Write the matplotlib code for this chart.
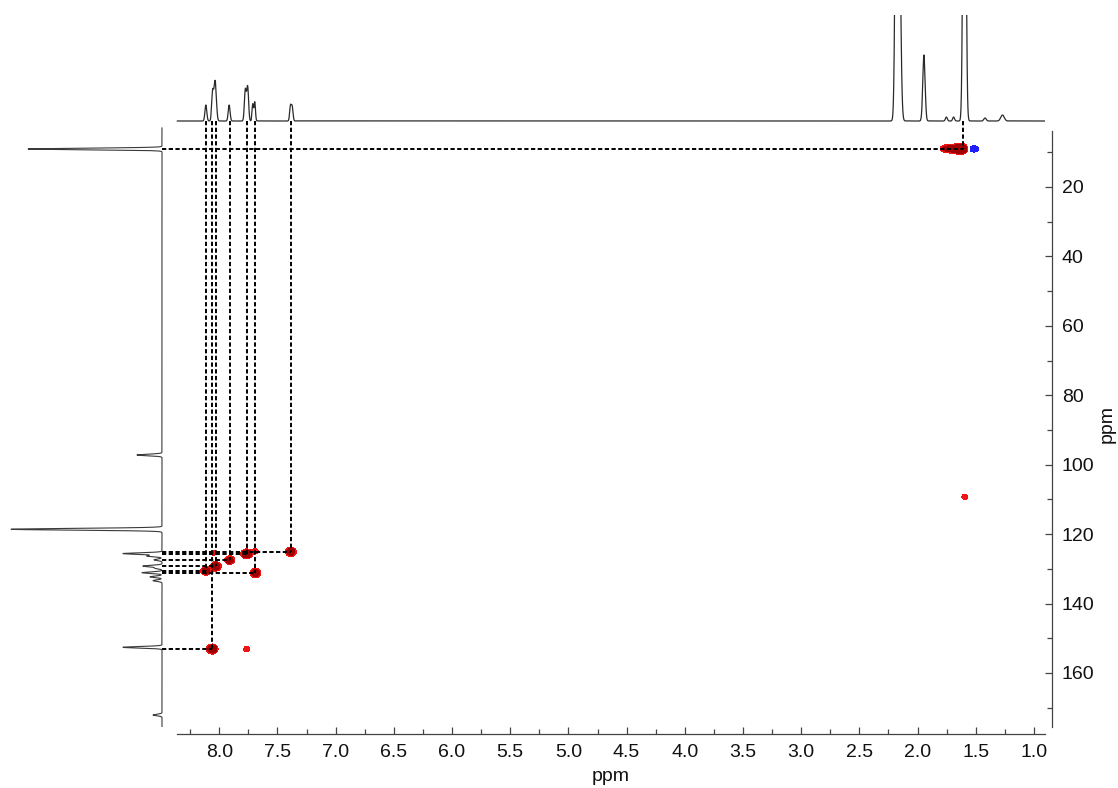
import numpy as np
import matplotlib
matplotlib.use("Agg")
import matplotlib.pyplot as plt
from matplotlib.ticker import MultipleLocator

plt.rcParams['font.family'] = ['Liberation Sans', 'DejaVu Sans']

# 1H projection: shift (ppm), intensity, gaussian width (ppm)
h_shift = [8.115, 8.057, 8.035, 7.915, 7.776, 7.756, 7.712, 7.695, 7.388, 7.373,
           2.178, 2.162, 1.945, 1.752, 1.690, 1.597, 1.420, 1.270]
h_height = [16, 28, 40, 16, 31, 34, 17, 19, 15, 14,
            400, 260, 66, 4, 4, 520, 3, 6]
h_width = [0.008, 0.008, 0.010, 0.008, 0.008, 0.008, 0.006, 0.006, 0.007, 0.007,
           0.012, 0.014, 0.010, 0.008, 0.008, 0.011, 0.010, 0.015]

# 13C projection: shift (ppm), intensity, gaussian width (ppm)
c_shift = [9.05, 97.2, 118.6, 125.6, 126.3, 127.4, 129.2, 129.8, 131.1, 132.3, 133.4, 152.6, 172.1]
c_height = [134, 25, 151, 39, 15, 8, 19, 7, 20, 12, 9, 39, 9]
c_width = [0.22, 0.22, 0.25, 0.22, 0.22, 0.22, 0.22, 0.22, 0.22, 0.22, 0.22, 0.22, 0.22]

# HSQC cross peaks: 1H shift, 13C shift, amplitude (negative = opposite phase)
cross_h = [7.385, 7.765, 7.690, 8.050, 7.910, 8.030, 8.115, 7.690, 8.060, 7.765,
           1.595,
           1.612, 1.645, 1.690, 1.740, 1.780, 1.535, 1.500]
cross_c = [125.1, 125.7, 124.9, 125.4, 127.5, 129.3, 130.6, 131.2, 153.1, 153.1,
           109.3,
           9.05, 9.05, 9.0, 9.0, 9.0, 9.05, 9.05]
cross_amp = [1.0, 1.25, 0.32, 0.32, 0.8, 1.05, 0.85, 1.0, 1.3, 0.32,
             0.32,
             1.15, 1.0, 0.75, 0.5, 0.3, -0.19, -0.2]

# cross peaks linked to the projections with dashed guides
assigned = [0, 1, 4, 5, 6, 7, 8, 11]

H_LIM = (8.492, 0.905)
C_LIM = (175.56, 1.0)

fig = plt.figure(figsize=(11.18, 7.88), dpi=100)
W, H = 1118, 788


def px_axes(x0, y0, x1, y1):
    return fig.add_axes([x0 / W, 1 - y1 / H, (x1 - x0) / W, (y1 - y0) / H])


ax = px_axes(162, 121, 1045, 727)
ax_top = px_axes(162, 15, 1045, 123)
ax_left = px_axes(0, 121, 164, 727)

# --- 2D contour map ---
hg = np.linspace(H_LIM[1], H_LIM[0], 2000)
cg = np.linspace(C_LIM[1], C_LIM[0], 1600)
sig_h = 0.026
sig_c = 0.75
Z = np.zeros((cg.size, hg.size))
for h, c, a in zip(cross_h, cross_c, cross_amp):
    gx = np.exp(-(hg - h) ** 2 / (2 * sig_h ** 2))
    gy = np.exp(-(cg - c) ** 2 / (2 * sig_c ** 2))
    Z += a * np.outer(gy, gx)

ax.contourf(hg, cg, Z, levels=[0.2, 0.4, 100], colors=['#f01414', '#a00000'])
ax.contourf(hg, cg, Z, levels=[-100, -0.15], colors=['#1e1eff'])

dash = (0, (2.2, 1.25))
for i in assigned:
    h, c = cross_h[i], cross_c[i]
    ax.plot([H_LIM[0], h], [c, c], color='black', lw=1.4, ls=dash, zorder=3)
    ax.plot([h, h], [C_LIM[1], c], color='black', lw=1.4, ls=dash, zorder=3)

ax.set_xlim(*H_LIM)
ax.set_ylim(*C_LIM)
ax.set_facecolor('none')
for s in ('top', 'left'):
    ax.spines[s].set_visible(False)
ax.spines['bottom'].set_position(('outward', 5))
ax.spines['right'].set_position(('outward', 5))
ax.spines['bottom'].set_bounds(8.363, 0.905)
ax.spines['right'].set_bounds(3.9, 175.56)
for s in ('bottom', 'right'):
    ax.spines[s].set_color('#444444')
    ax.spines[s].set_linewidth(0.9)

ax.xaxis.set_major_locator(MultipleLocator(0.5))
ax.xaxis.set_minor_locator(MultipleLocator(0.25))
ax.yaxis.set_major_locator(MultipleLocator(20))
ax.yaxis.set_minor_locator(MultipleLocator(10))
ax.xaxis.set_major_formatter(plt.FuncFormatter(lambda v, p: f"{v:.1f}"))
ax.yaxis.tick_right()
ax.yaxis.set_label_position('right')
ax.tick_params(axis='both', which='both', direction='in', colors='#444444',
               labelcolor='#111111', labelsize=14, width=0.9)
ax.tick_params(axis='both', which='major', length=5, pad=7)
ax.tick_params(axis='both', which='minor', length=3.5)
ax.tick_params(axis='y', which='both', left=False, right=True)
ax.set_xlabel('ppm', fontsize=14, color='#111111', labelpad=4)
ax.xaxis.set_label_coords(0.5085, -0.068)
ax.set_ylabel('ppm', fontsize=14, color='#111111', labelpad=3)

# --- 1H projection on top ---
hx = np.linspace(0.905, 8.36, 6000)
hy = np.zeros_like(hx)
for s, a, w in zip(h_shift, h_height, h_width):
    hy += a * np.exp(-(hx - s) ** 2 / (2 * w ** 2))
ax_top.plot(hx, hy, color='#2a2a2a', lw=0.9)
ax_top.set_xlim(*H_LIM)
ax_top.set_ylim(-2, 106)
ax_top.axis('off')

# --- 13C projection on the left ---
cy = np.linspace(3.0, 175.5, 8000)
cx = np.zeros_like(cy)
for s, a, w in zip(c_shift, c_height, c_width):
    cx += a * np.exp(-(cy - s) ** 2 / (2 * w ** 2))
ax_left.plot(cx, cy, color='#3a3a3a', lw=0.8)
ax_left.set_xlim(162, -2)
ax_left.set_ylim(*C_LIM)
ax_left.axis('off')

fig.savefig('out.png', dpi=100)
